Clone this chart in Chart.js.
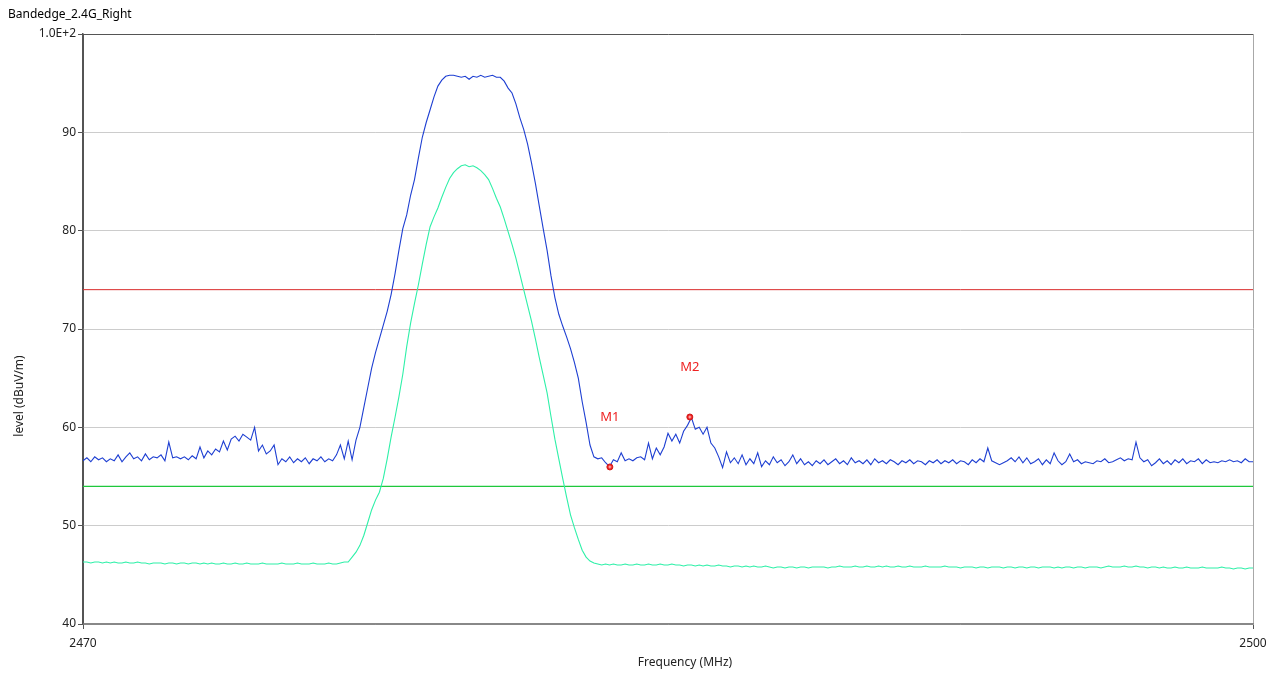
<!DOCTYPE html>
<html>
<head>
<meta charset="utf-8">
<script src="https://cdn.jsdelivr.net/npm/chart.js@4"></script>
<style>
html,body{margin:0;padding:0;background:#fff;}
#wrap{width:1275px;height:675px;position:relative;}
</style>
</head>
<body>
<div id="wrap"><canvas id="c" width="1275" height="675"></canvas></div>
<script>
// ---- data ----
const chartTitle = 'Bandedge_2.4G_Right';
const xAxisTitle = 'Frequency (MHz)';
const yAxisTitle = 'level (dBuV/m)';
const freqStart = 2470;     // MHz, first sample
const freqStep = 0.1;       // MHz between samples
const xTickValues = [2470, 2500];
const yTickValues = [40, 50, 60, 70, 80, 90, 100];

// peak trace (blue), 2470.0 .. 2500.0 MHz
const peakLevels = [
 56.6,56.9,56.5,57.0,56.7,56.9,56.5,56.8,56.6,57.2,
 56.5,57.0,57.4,56.8,57.0,56.6,57.3,56.7,57.0,56.9,
 57.2,56.6,58.5,56.9,57.0,56.8,57.0,56.7,57.1,56.8,
 58.0,56.9,57.6,57.2,57.8,57.5,58.6,57.7,58.8,59.1,
 58.6,59.3,59.0,58.7,60.0,57.6,58.2,57.3,57.6,58.2,
 56.2,56.8,56.5,57.0,56.4,56.8,56.5,56.9,56.3,56.8,
 56.6,57.0,56.5,56.8,56.6,57.2,58.2,56.8,58.6,56.7,
 58.7,60.0,62.0,64.0,66.0,67.6,69.0,70.4,71.8,73.5,
 75.6,78.0,80.2,81.6,83.6,85.2,87.4,89.5,91.0,92.3,
 93.6,94.7,95.3,95.7,95.8,95.8,95.7,95.6,95.7,95.4,
 95.7,95.6,95.8,95.6,95.7,95.8,95.6,95.6,95.2,94.5,
 94.0,92.9,91.5,90.3,88.8,86.9,84.8,82.5,80.2,78.0,
 75.4,73.2,71.5,70.3,69.2,68.0,66.6,65.0,62.6,60.5,
 58.2,57.0,56.8,56.9,56.4,56.0,56.7,56.5,57.4,56.6,
 56.8,56.6,56.9,57.0,56.7,58.4,56.8,57.9,57.2,58.0,
 59.4,58.6,59.3,58.4,59.6,60.2,61.0,59.8,60.0,59.3,
 60.0,58.4,57.9,57.0,55.9,57.5,56.4,56.9,56.3,57.2,
 56.2,56.8,56.3,57.4,56.0,56.6,56.2,57.0,56.4,56.7,
 56.1,56.5,57.2,56.3,56.8,56.2,56.5,56.1,56.6,56.3,
 56.7,56.2,56.5,56.8,56.3,56.6,56.2,56.9,56.4,56.6,
 56.3,56.7,56.2,56.8,56.4,56.6,56.3,56.7,56.5,56.2,
 56.6,56.4,56.7,56.3,56.6,56.5,56.2,56.6,56.4,56.7,
 56.3,56.6,56.4,56.7,56.3,56.6,56.5,56.2,56.7,56.4,
 56.8,56.5,57.9,56.6,56.4,56.2,56.4,56.6,56.9,56.5,
 57.0,56.4,56.9,56.3,56.5,56.8,56.2,56.7,56.3,57.4,
 56.6,56.2,56.5,57.3,56.5,56.7,56.3,56.5,56.4,56.3,
 56.6,56.5,56.8,56.4,56.5,56.7,56.9,56.6,56.8,56.7,
 58.5,56.9,56.5,56.7,56.1,56.4,56.8,56.3,56.6,56.2,
 56.7,56.4,56.8,56.3,56.6,56.5,56.8,56.3,56.7,56.4,
 56.5,56.4,56.6,56.5,56.7,56.5,56.6,56.4,56.8,56.5,
 56.5
];

// average trace (green), 2470.0 .. 2500.0 MHz
const avgLevels = [
 46.3,46.3,46.2,46.3,46.3,46.2,46.3,46.2,46.3,46.2,
 46.2,46.3,46.2,46.2,46.3,46.2,46.2,46.1,46.2,46.2,
 46.2,46.1,46.2,46.2,46.1,46.2,46.2,46.1,46.2,46.2,
 46.1,46.2,46.1,46.2,46.1,46.1,46.2,46.1,46.1,46.2,
 46.1,46.1,46.2,46.1,46.1,46.1,46.2,46.1,46.1,46.1,
 46.1,46.2,46.1,46.1,46.1,46.2,46.1,46.1,46.1,46.2,
 46.1,46.1,46.1,46.2,46.1,46.1,46.2,46.3,46.3,46.8,
 47.3,48.0,49.0,50.3,51.6,52.6,53.4,54.8,56.8,59.0,
 61.0,63.1,65.4,68.2,70.6,72.6,74.5,76.6,78.6,80.4,
 81.4,82.3,83.4,84.4,85.3,85.9,86.3,86.6,86.7,86.5,
 86.6,86.4,86.1,85.7,85.2,84.3,83.3,82.4,81.2,79.9,
 78.6,77.2,75.6,74.0,72.4,70.8,69.0,67.1,65.3,63.5,
 61.1,58.8,56.8,54.8,52.9,51.1,49.8,48.6,47.5,46.8,
 46.4,46.2,46.1,46.0,46.1,46.0,46.1,46.0,46.0,46.1,
 46.0,46.0,46.1,46.0,46.0,46.1,46.0,46.0,46.1,46.0,
 46.0,46.1,46.0,46.0,45.9,46.0,46.0,45.9,46.0,45.9,
 46.0,45.9,45.9,46.0,45.9,45.9,45.8,45.9,45.9,45.8,
 45.9,45.8,45.9,45.8,45.8,45.9,45.8,45.7,45.8,45.8,
 45.7,45.8,45.8,45.7,45.8,45.8,45.7,45.8,45.8,45.8,
 45.8,45.7,45.8,45.8,45.9,45.8,45.8,45.8,45.9,45.8,
 45.8,45.9,45.8,45.8,45.9,45.8,45.9,45.8,45.8,45.9,
 45.8,45.8,45.9,45.8,45.8,45.8,45.9,45.8,45.8,45.8,
 45.8,45.9,45.8,45.8,45.8,45.7,45.8,45.8,45.8,45.7,
 45.8,45.8,45.7,45.8,45.8,45.8,45.7,45.8,45.8,45.7,
 45.8,45.8,45.7,45.8,45.8,45.7,45.8,45.8,45.8,45.7,
 45.8,45.7,45.8,45.8,45.7,45.8,45.8,45.7,45.8,45.8,
 45.8,45.7,45.8,45.9,45.8,45.8,45.8,45.9,45.8,45.8,
 45.9,45.8,45.8,45.7,45.8,45.8,45.7,45.8,45.7,45.7,
 45.8,45.7,45.7,45.8,45.7,45.7,45.7,45.8,45.7,45.7,
 45.7,45.7,45.8,45.7,45.7,45.6,45.7,45.7,45.6,45.7,
 45.7
];

const peakLimit = 74;     // red limit line
const avgLimit = 54;      // green limit line
const markerNames = ['M1', 'M2'];
const markerFreqs = [2483.51, 2485.56];
const markerLevels = [55.97, 61.05];

// ---- build datasets ----
const toPoints = arr => arr.map((v, i) => ({x: +(freqStart + i * freqStep).toFixed(2), y: v}));
const xMin = xTickValues[0], xMax = xTickValues[xTickValues.length - 1];
const limitPoints = v => [{x: xMin, y: v}, {x: xMax, y: v}];

const FONT = '"Noto Sans", "DejaVu Sans", sans-serif';

const overlay = {
  id: 'overlay',
  afterDatasetsDraw(chart) {
    const ctx = chart.ctx;
    const xs = chart.scales.x, ys = chart.scales.y;
    ctx.save();
    ctx.fillStyle = '#000';
    ctx.font = '12px ' + FONT;
    ctx.textAlign = 'left';
    ctx.textBaseline = 'middle';
    ctx.fillText(chartTitle, 8, 15);
    // x title
    ctx.fillStyle = '#222';
    ctx.textAlign = 'center';
    ctx.fillText(xAxisTitle, 685, 663);
    // y title
    ctx.save();
    ctx.translate(20, 396);
    ctx.rotate(-Math.PI / 2);
    ctx.fillText(yAxisTitle, 0, 0);
    ctx.restore();
    // marker labels
    ctx.font = '13px ' + FONT;
    markerNames.forEach((n, i) => {
      const px = xs.getPixelForValue(markerFreqs[i]);
      const py = ys.getPixelForValue(markerLevels[i]);
      ctx.fillStyle = '#ee2222';
      ctx.fillText(n, px, py - 50);
      ctx.strokeStyle = 'rgba(255,200,200,0.9)';
      ctx.lineWidth = 1;
      ctx.beginPath();
      ctx.moveTo(px - 1.5, py); ctx.lineTo(px + 1.5, py);
      ctx.moveTo(px, py - 1.5); ctx.lineTo(px, py + 1.5);
      ctx.stroke();
    });
    ctx.restore();
  }
};

new Chart(document.getElementById('c'), {
  type: 'line',
  data: {
    datasets: [
      {label: 'Markers', type: 'scatter', data: markerFreqs.map((f, i) => ({x: f, y: markerLevels[i]})),
       pointRadius: 3, pointBackgroundColor: '#ee2020', pointBorderColor: '#d01818', pointBorderWidth: 1, order: 0},
      {label: 'Peak', data: toPoints(peakLevels), borderColor: '#1e3fd2', borderWidth: 1.1, pointRadius: 0, tension: 0, order: 1},
      {label: 'Average', data: toPoints(avgLevels), borderColor: '#2ef0a8', borderWidth: 1.1, pointRadius: 0, tension: 0, order: 2},
      {label: 'Peak limit', data: limitPoints(peakLimit), borderColor: '#d92a2a', borderWidth: 1, pointRadius: 0, order: 3},
      {label: 'Average limit', data: limitPoints(avgLimit), borderColor: '#1fc83c', borderWidth: 1.2, pointRadius: 0, order: 4}
    ]
  },
  options: {
    responsive: false,
    animation: false,
    events: [],
    layout: {padding: {top: 34, right: 22, left: 0, bottom: 0}},
    plugins: {legend: {display: false}, tooltip: {enabled: false}, title: {display: false}},
    scales: {
      x: {
        type: 'linear', min: xMin, max: xMax,
        afterBuildTicks: s => { s.ticks = xTickValues.map(v => ({value: v})); },
        afterFit: s => { s.height = 51; },
        ticks: {color: '#222', font: {size: 12, family: FONT}, maxRotation: 0, padding: 7, autoSkip: false,
                callback: v => String(v)},
        grid: {color: ctx => ctx.tick && ctx.tick.value === xMax ? '#a8a8a8' : '#555', lineWidth: 1, tickLength: 5, tickColor: '#555', drawOnChartArea: true},
        border: {color: '#888', width: 1.5}
      },
      y: {
        min: 40, max: 100,
        afterBuildTicks: s => { s.ticks = yTickValues.map(v => ({value: v})); },
        afterFit: s => { s.width = 83; },
        ticks: {color: '#222', font: {size: 12, family: FONT}, padding: 2, autoSkip: false,
                callback: v => v === 100 ? '1.0E+2' : String(v)},
        grid: {color: ctx => ctx.tick && ctx.tick.value === 100 ? '#555' : (ctx.tick && ctx.tick.value === 40 ? '#888' : '#cccccc'),
               lineWidth: 1, tickLength: 5, tickColor: '#555'},
        border: {color: '#555', width: 1.5}
      }
    }
  },
  plugins: [overlay]
});
</script>
</body>
</html>
